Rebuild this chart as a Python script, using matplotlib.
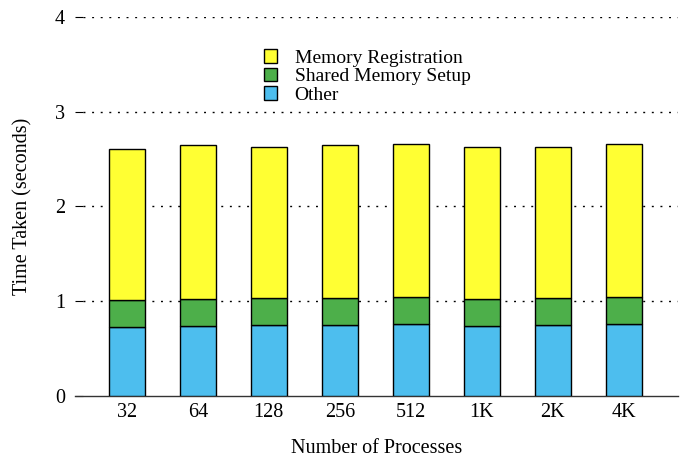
import numpy as np
import matplotlib.pyplot as plt
from matplotlib.patches import Patch

plt.rcParams['font.family'] = ['Liberation Serif', 'DejaVu Serif']

procs = ["32", "64", "128", "256", "512", "1K", "2K", "4K"]
other = [0.725, 0.735, 0.745, 0.745, 0.755, 0.735, 0.745, 0.755]
shm_setup = [0.29, 0.29, 0.285, 0.285, 0.29, 0.29, 0.285, 0.29]
mem_reg = [1.595, 1.62, 1.595, 1.615, 1.61, 1.60, 1.595, 1.61]

c_other = '#4dbeee'
c_shm = '#4daf4a'
c_reg = '#ffff33'

fig = plt.figure(figsize=(6.84, 4.58), dpi=100)
ax = fig.add_axes([0.1096, 0.1354, 0.8814, 0.8276])

x = np.arange(len(procs))
other = np.array(other)
shm_setup = np.array(shm_setup)
mem_reg = np.array(mem_reg)
w = 0.51
ax.bar(x, other, w, color=c_other, edgecolor='black', linewidth=1, zorder=3)
ax.bar(x, shm_setup, w, bottom=other, color=c_shm, edgecolor='black', linewidth=1, zorder=3)
ax.bar(x, mem_reg, w, bottom=other + shm_setup, color=c_reg, edgecolor='black', linewidth=1, zorder=3)

ax.set_xlim(-0.73, 7.76)
ax.set_ylim(0, 4)
ax.set_yticks([0, 1, 2, 3, 4])
ax.set_xticks(x)
ax.set_xticklabels(procs)
ax.tick_params(axis='y', direction='in', length=6, width=0.8, labelsize=14.5, pad=7)
ax.tick_params(axis='x', length=0, labelsize=14.5, pad=5)

# dotted horizontal guides, starting past the tick marks
for yv in [1, 2, 3, 4]:
    ax.plot([-0.62, 7.76], [yv, yv], color='black', linewidth=1,
            dashes=(1.4, 4.8), zorder=1)

for s in ['left', 'right', 'top']:
    ax.spines[s].set_visible(False)
ax.spines['bottom'].set_linewidth(1)
ax.spines['bottom'].set_color('#333333')

ax.set_ylabel('Time Taken (seconds)', fontsize=14.5)
ax.yaxis.set_label_coords(-0.071, 0.5)
ax.set_xlabel('Number of Processes', fontsize=14.5)
ax.xaxis.set_label_coords(0.5, -0.113)

handles = [Patch(facecolor=c_reg, edgecolor='black', label='Memory Registration'),
           Patch(facecolor=c_shm, edgecolor='black', label='Shared Memory Setup'),
           Patch(facecolor=c_other, edgecolor='black', label='Other')]
ax.legend(handles=handles, loc='upper left', bbox_to_anchor=(0.3, 0.936),
          frameon=False, fontsize=14, handlelength=0.7, handleheight=0.7,
          handletextpad=0.9, labelspacing=0.05, borderaxespad=0)

fig.savefig('out.png', dpi=100)
